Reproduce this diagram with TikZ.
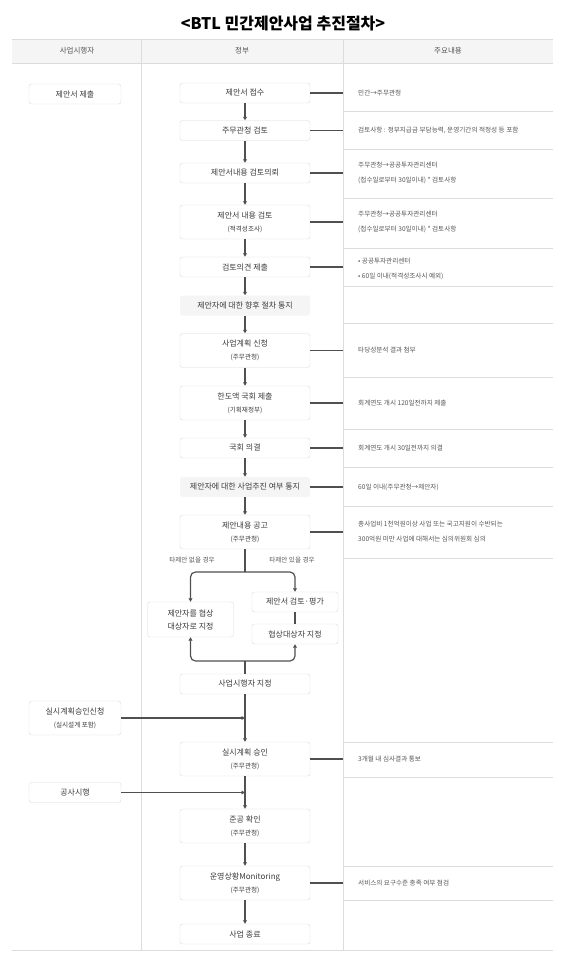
\documentclass[tikz,border=0pt]{standalone}
\usepackage{fontspec}
\setmainfont{Noto Sans CJK KR}
\usetikzlibrary{arrows.meta,positioning}
\definecolor{btink}   {HTML}{3C3C3C}
\definecolor{btgrey}  {HTML}{555555}
\definecolor{btrule}  {HTML}{DCDCDC}
\definecolor{btbox}   {HTML}{D9D9D9}
\definecolor{btshade} {HTML}{F5F5F5}
\definecolor{btarrow} {HTML}{505050}
\newcommand{\btsub}[1]{{\fontsize{6.6}{13}\selectfont #1}}
\tikzset{
  btstep/.style={draw=btbox, fill=white, rounded corners=2.5pt, inner sep=0pt,
                 minimum width=130pt, minimum height=20pt, align=center,
                 font=\fontsize{8}{13}\selectfont, text=btink},
  btstep2/.style={btstep, minimum height=34pt},
  btnotice/.style={btstep, draw=none, fill=btshade},
  btside/.style={btstep, minimum width=92pt},
  btbranch/.style={btstep, minimum width=86pt},
  btnote/.style={anchor=west, align=left, inner sep=0pt,
                 font=\fontsize{6.6}{15}\selectfont, text=btgrey},
  btlabel/.style={inner sep=0pt, font=\fontsize{6.6}{8}\selectfont, text=btgrey},
  bthead/.style={inner sep=0pt, font=\fontsize{7.5}{9}\selectfont, text=btgrey},
  btflow/.style={draw=btarrow, line width=1.2pt, -{Triangle[length=3.5pt,width=3.8pt]}},
  btline/.style={draw=btarrow, line width=1.2pt},
  btrow/.style={draw=btrule, line width=0.8pt},
}
\begin{document}
\begin{tikzpicture}[x=1pt,y=-1pt]
  \useasboundingbox (0,0) rectangle (566,957);
  \node[inner sep=0pt, font=\bfseries\fontsize{16}{18}\selectfont, text=black] (title) at (283,24)
    {<BTL 민간제안사업 추진절차>};

  % table frame
  \fill[btshade] (12,39) rectangle (553,63);
  \draw[btrow] (12,39) -- (553,39);
  \draw[btrow] (12,63) -- (553,63);
  \draw[btrow] (12,950) -- (553,950);
  \draw[btrow] (141.5,39) -- (141.5,950);
  \draw[btrow] (343,39) -- (343,950);
  \foreach \y in {111,149,198,248,286,323,377,429,467,506,558,742,777,866,900}
    \draw[btrow] (343,\y) -- (553,\y);
  \node[bthead] (h1) at (77,51)  {사업시행자};
  \node[bthead] (h2) at (242,51) {정부};
  \node[bthead] (h3) at (448,51) {주요내용};

  % government column
  \node[btstep]   (b1)  at (245,93)    {제안서 접수};
  \node[btstep]   (b2)  at (245,130.5) {주무관청 검토};
  \node[btstep]   (b3)  at (245,173)   {제안서내용 검토의뢰};
  \node[btstep2]  (b4)  at (245,222)   {제안서 내용 검토\\\btsub{(적격성조사)}};
  \node[btstep]   (b5)  at (245,267)   {검토의견 제출};
  \node[btnotice] (b6)  at (245,305.5) {제안자에 대한 향후 절차 통지};
  \node[btstep2]  (b7)  at (245,350.5) {사업계획 신청\\\btsub{(주무관청)}};
  \node[btstep2]  (b8)  at (245,403)   {한도액 국회 제출\\\btsub{(기획재정부)}};
  \node[btstep]   (b9)  at (245,448)   {국회 의결};
  \node[btnotice] (b10) at (245,487)   {제안자에 대한 사업추진 여부 통지};
  \node[btstep2]  (b11) at (245,532)   {제안내용 공고\\\btsub{(주무관청)}};
  \node[btbranch, minimum height=35pt] (neg1) at (190.5,619.5) {제안자를 협상\\대상자로 지정};
  \node[btbranch] (eval) at (295,602)  {제안서 검토·평가};
  \node[btbranch] (neg2) at (295,634)  {협상대상자 지정};
  \node[btstep]   (b12) at (245,684)   {사업시행자 지정};
  \node[btstep2]  (b13) at (245,759)   {실시계획 승인\\\btsub{(주무관청)}};
  \node[btstep2]  (b14) at (245,826)   {준공 확인\\\btsub{(주무관청)}};
  \node[btstep2]  (b15) at (245,883)   {운영상황Monitoring\\\btsub{(주무관청)}};
  \node[btstep]   (b16) at (245,934)   {사업 종료};

  % operator column
  \node[btside] (s1) at (75,94) {제안서 제출};
  \node[btside, minimum height=34pt] (s2) at (75,718) {실시계획승인신청\\\btsub{(실시설계 포함)}};
  \node[btside] (s3) at (75,792.5) {공사시행};

  \foreach \a/\b in {b1/b2,b2/b3,b3/b4,b4/b5,b5/b6,b6/b7,b7/b8,b8/b9,b9/b10,b10/b11,
                     b12/b13,b13/b14,b14/b15,b15/b16}
    \draw[btflow] (\a.south) -- (\b.north);

  % branch for competing proposals
  \coordinate (split) at (245,572);
  \coordinate (merge) at (245,661);
  \node[btlabel] (lbl1) at (192,560) {타제안 없을 경우};
  \node[btlabel] (lbl2) at (292,560) {타제안 있을 경우};
  \draw[btline] (b11.south) -- (split);
  \draw[btflow, rounded corners=5pt] (split) -| (neg1.north);
  \draw[btflow, rounded corners=5pt] (split) -| (eval.north);
  \draw[btline] (eval.south) -- (neg2.north);
  \draw[btline] (b12.north) -- (merge);
  \draw[btflow, rounded corners=5pt] (merge) -| (neg1.south);
  \draw[btflow, rounded corners=5pt] (merge) -| (neg2.south);

  \draw[btflow] (s2.east) -- (s2.east -| b12.south);
  \draw[btflow] (s3.east) -- (s3.east -| b13.south);

  % notes column
  \coordinate (divR) at (343,0);
  \foreach \n in {b1,b2,b3,b4,b5,b7,b8,b9,b10,b11,b13,b15}
    \draw[btline] (\n.east) -- (\n.east -| divR);

  \node[btnote] (n1)  at (358,93)    {민간→주무관청};
  \node[btnote] (n2)  at (358,130.5) {검토사항 : 정부지급금 부담능력, 운영기간의 적정성 등 포함};
  \node[btnote] (n3)  at (358,173)   {주무관청→공공투자관리센터\\(접수일로부터 30일이내) * 검토사항};
  \node[btnote] (n4)  at (358,222)   {주무관청→공공투자관리센터\\(접수일로부터 30일이내) * 검토사항};
  \node[btnote] (n5)  at (358,269)   {• 공공투자관리센터\\• 60일 이내(적격성조사시 예외)};
  \node[btnote] (n7)  at (358,350.5) {타당성분석 결과 첨부};
  \node[btnote] (n8)  at (358,403)   {회계연도 개시 120일전까지 제출};
  \node[btnote] (n9)  at (358,448)   {회계연도 개시 30일전까지 의결};
  \node[btnote] (n10) at (358,487)   {60일 이내(주무관청→제안자)};
  \node[btnote] (n11) at (358,531.5) {총사업비 1천억원이상 사업 또는 국고지원이 수반되는\\300억원 미만 사업에 대해서는 심의위원회 심의};
  \node[btnote] (n13) at (358,759)   {3개월 내 심사결과 통보};
  \node[btnote] (n15) at (358,883)   {서비스의 요구수준 충족 여부 점검};
\end{tikzpicture}
\end{document}
